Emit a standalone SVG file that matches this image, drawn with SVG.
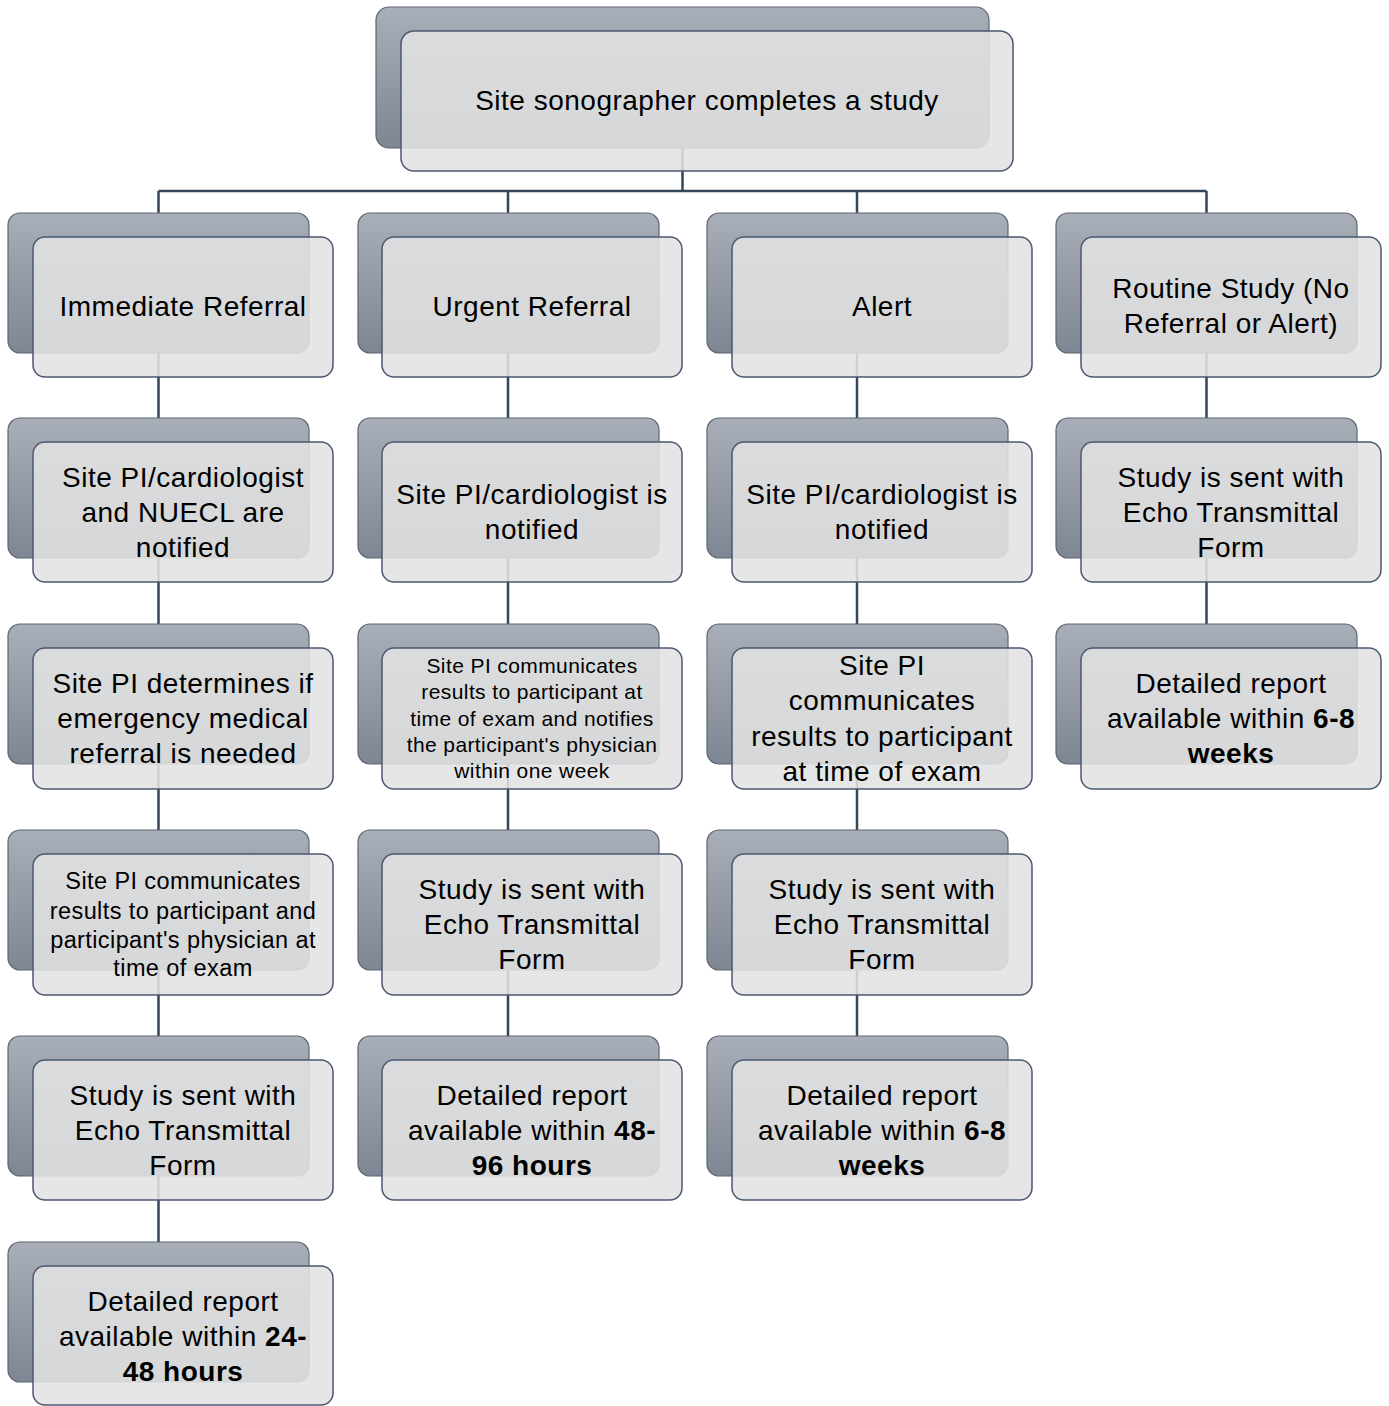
<svg xmlns="http://www.w3.org/2000/svg" width="1389" height="1406" viewBox="0 0 1389 1406">
<defs>
<linearGradient id="bg" x1="0" y1="0" x2="0" y2="1">
<stop offset="0" stop-color="#a9afb8"/>
<stop offset="1" stop-color="#7e8693"/>
</linearGradient>
<style>
.back{fill:url(#bg);stroke:#5d6573;stroke-width:1.2}
.front{fill:#e2e2e2;fill-opacity:0.88;stroke:#4a5870;stroke-width:1.5}
.conn{fill:none;stroke:#364659;stroke-width:2.5}
text{font-family:"Liberation Sans",Arial,sans-serif;font-size:28px;letter-spacing:0.5px;fill:#000;text-anchor:middle}
.s{font-size:21px;letter-spacing:0.4px}
.m{font-size:23.5px;letter-spacing:0.4px}
.b{font-weight:bold}
</style>
</defs>
<rect width="1389" height="1406" fill="#fff"/>
<g id="connectors">
<path class="conn" d="M682.5 148V191M158.5 191H1206.5M158.5 191V1242M508 191V1036M857 191V1036M1206.5 191V624"/>
</g>
<g id="n-top">
<rect class="back" x="376" y="7" width="613" height="141" rx="13"/>
<rect class="front" x="401" y="31" width="612" height="140" rx="13"/>
<text x="707" y="110">Site sonographer completes a study</text>
</g>
<g id="n-c1r1">
<rect class="back" x="8" y="213" width="301" height="140" rx="12"/>
<rect class="front" x="33" y="237" width="300" height="140" rx="12"/>
<text x="183" y="316">Immediate Referral</text>
</g>
<g id="n-c2r1">
<rect class="back" x="358" y="213" width="301" height="140" rx="12"/>
<rect class="front" x="382" y="237" width="300" height="140" rx="12"/>
<text x="532" y="316">Urgent Referral</text>
</g>
<g id="n-c3r1">
<rect class="back" x="707" y="213" width="301" height="140" rx="12"/>
<rect class="front" x="732" y="237" width="300" height="140" rx="12"/>
<text x="882" y="316">Alert</text>
</g>
<g id="n-c4r1">
<rect class="back" x="1056" y="213" width="301" height="140" rx="12"/>
<rect class="front" x="1081" y="237" width="300" height="140" rx="12"/>
<text x="1231" y="298">Routine Study (No</text>
<text x="1231" y="333">Referral or Alert)</text>
</g>
<g id="n-c1r2">
<rect class="back" x="8" y="418" width="301" height="140" rx="12"/>
<rect class="front" x="33" y="442" width="300" height="140" rx="12"/>
<text x="183" y="487">Site PI/cardiologist</text>
<text x="183" y="522">and NUECL are</text>
<text x="183" y="557">notified</text>
</g>
<g id="n-c2r2">
<rect class="back" x="358" y="418" width="301" height="140" rx="12"/>
<rect class="front" x="382" y="442" width="300" height="140" rx="12"/>
<text x="532" y="504">Site PI/cardiologist is</text>
<text x="532" y="539">notified</text>
</g>
<g id="n-c3r2">
<rect class="back" x="707" y="418" width="301" height="140" rx="12"/>
<rect class="front" x="732" y="442" width="300" height="140" rx="12"/>
<text x="882" y="504">Site PI/cardiologist is</text>
<text x="882" y="539">notified</text>
</g>
<g id="n-c4r2">
<rect class="back" x="1056" y="418" width="301" height="140" rx="12"/>
<rect class="front" x="1081" y="442" width="300" height="140" rx="12"/>
<text x="1231" y="487">Study is sent with</text>
<text x="1231" y="522">Echo Transmittal</text>
<text x="1231" y="557">Form</text>
</g>
<g id="n-c1r3">
<rect class="back" x="8" y="624" width="301" height="140" rx="12"/>
<rect class="front" x="33" y="648" width="300" height="141" rx="12"/>
<text x="183" y="693">Site PI determines if</text>
<text x="183" y="728">emergency medical</text>
<text x="183" y="763">referral is needed</text>
</g>
<g id="n-c2r3">
<rect class="back" x="358" y="624" width="301" height="140" rx="12"/>
<rect class="front" x="382" y="648" width="300" height="141" rx="12"/>
<text class="s" x="532" y="673">Site PI communicates</text>
<text class="s" x="532" y="699">results to participant at</text>
<text class="s" x="532" y="726">time of exam and notifies</text>
<text class="s" x="532" y="752">the participant's physician</text>
<text class="s" x="532" y="778">within one week</text>
</g>
<g id="n-c3r3">
<rect class="back" x="707" y="624" width="301" height="140" rx="12"/>
<rect class="front" x="732" y="648" width="300" height="141" rx="12"/>
<text x="882" y="675">Site PI</text>
<text x="882" y="710">communicates</text>
<text x="882" y="746">results to participant</text>
<text x="882" y="781">at time of exam</text>
</g>
<g id="n-c4r3">
<rect class="back" x="1056" y="624" width="301" height="140" rx="12"/>
<rect class="front" x="1081" y="648" width="300" height="141" rx="12"/>
<text x="1231" y="693">Detailed report</text>
<text x="1231" y="728">available within <tspan class="b">6-8</tspan></text>
<text x="1231" y="763" class="b">weeks</text>
</g>
<g id="n-c1r4">
<rect class="back" x="8" y="830" width="301" height="140" rx="12"/>
<rect class="front" x="33" y="854" width="300" height="141" rx="12"/>
<text class="m" x="183" y="889">Site PI communicates</text>
<text class="m" x="183" y="919">results to participant and</text>
<text class="m" x="183" y="948">participant's physician at</text>
<text class="m" x="183" y="976">time of exam</text>
</g>
<g id="n-c2r4">
<rect class="back" x="358" y="830" width="301" height="140" rx="12"/>
<rect class="front" x="382" y="854" width="300" height="141" rx="12"/>
<text x="532" y="899">Study is sent with</text>
<text x="532" y="934">Echo Transmittal</text>
<text x="532" y="969">Form</text>
</g>
<g id="n-c3r4">
<rect class="back" x="707" y="830" width="301" height="140" rx="12"/>
<rect class="front" x="732" y="854" width="300" height="141" rx="12"/>
<text x="882" y="899">Study is sent with</text>
<text x="882" y="934">Echo Transmittal</text>
<text x="882" y="969">Form</text>
</g>
<g id="n-c1r5">
<rect class="back" x="8" y="1036" width="301" height="140" rx="12"/>
<rect class="front" x="33" y="1060" width="300" height="140" rx="12"/>
<text x="183" y="1105">Study is sent with</text>
<text x="183" y="1140">Echo Transmittal</text>
<text x="183" y="1175">Form</text>
</g>
<g id="n-c2r5">
<rect class="back" x="358" y="1036" width="301" height="140" rx="12"/>
<rect class="front" x="382" y="1060" width="300" height="140" rx="12"/>
<text x="532" y="1105">Detailed report</text>
<text x="532" y="1140">available within <tspan class="b">48-</tspan></text>
<text x="532" y="1175" class="b">96 hours</text>
</g>
<g id="n-c3r5">
<rect class="back" x="707" y="1036" width="301" height="140" rx="12"/>
<rect class="front" x="732" y="1060" width="300" height="140" rx="12"/>
<text x="882" y="1105">Detailed report</text>
<text x="882" y="1140">available within <tspan class="b">6-8</tspan></text>
<text x="882" y="1175" class="b">weeks</text>
</g>
<g id="n-c1r6">
<rect class="back" x="8" y="1242" width="301" height="140" rx="12"/>
<rect class="front" x="33" y="1266" width="300" height="139" rx="12"/>
<text x="183" y="1311">Detailed report</text>
<text x="183" y="1346">available within <tspan class="b">24-</tspan></text>
<text x="183" y="1381" class="b">48 hours</text>
</g>
</svg>
